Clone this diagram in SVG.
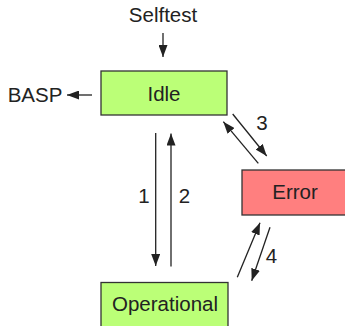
<svg xmlns="http://www.w3.org/2000/svg" width="345" height="326" viewBox="0 0 345 326">
<style>
.box{stroke:#333;stroke-width:1.3}
.green{fill:#bbff77}
.red{fill:#ff7f7f}
text{font-family:"Liberation Sans",Arial,sans-serif;font-size:20.5px;fill:#222;text-anchor:middle}
.c{stroke:#222;stroke-width:1.3;fill:none;marker-end:url(#ah)}
</style>
<defs>
<marker id="ah" viewBox="0 0 12 9" refX="12" refY="4.5" markerWidth="12" markerHeight="9" markerUnits="userSpaceOnUse" orient="auto">
<path d="M0,0 L12,4.5 L0,9 Z" fill="#222"/>
</marker>
</defs>
<rect width="345" height="326" fill="#fff"/>
<g id="selftest"><text x="163" y="22">Selftest</text></g>
<g id="basp"><text x="35" y="102">BASP</text></g>
<g id="idle"><rect class="box green" x="101" y="71" width="126" height="44"/><text x="164" y="101">Idle</text></g>
<g id="error"><rect class="box red" x="242" y="170" width="126" height="45"/><text x="295" y="199">Error</text></g>
<g id="operational"><rect class="box green" x="101" y="282.5" width="127" height="50"/><text x="165" y="310.5">Operational</text></g>
<g id="connectors">
<line class="c" x1="163" y1="33" x2="163" y2="57"/>
<line class="c" x1="92" y1="95" x2="67" y2="95"/>
<line class="c" x1="155.7" y1="133" x2="155.7" y2="266"/>
<line class="c" x1="171" y1="266.5" x2="171" y2="133.5"/>
<line class="c" x1="232.7" y1="114" x2="266.7" y2="156"/>
<line class="c" x1="258.3" y1="163.3" x2="223.3" y2="121.7"/>
<line class="c" x1="237.3" y1="277.3" x2="260" y2="222.7"/>
<line class="c" x1="270" y1="227.3" x2="251.7" y2="280.7"/>
<text x="144" y="203">1</text>
<text x="184.5" y="203">2</text>
<text x="262" y="130">3</text>
<text x="271.5" y="263">4</text>
</g>
</svg>
